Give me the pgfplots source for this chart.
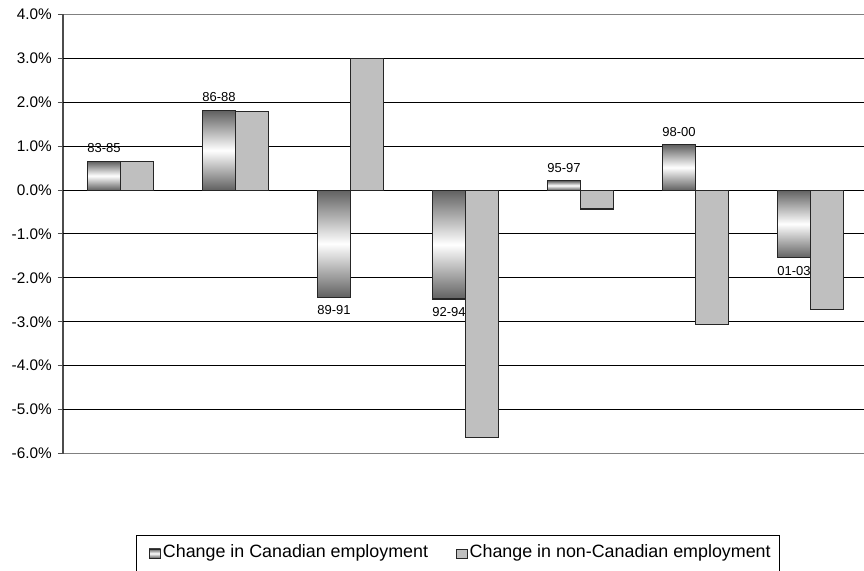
\documentclass[border=0pt]{standalone}
\usepackage{fontspec}
\setmainfont{Liberation Sans}
\usepackage{pgfplots}
\pgfplotsset{compat=1.18}

\pgfplotsset{
  canbar/.style={draw=black!85, line width=0.8pt, top color=black!62, bottom color=black!62, middle color=white,
    bar shift=-12.375pt, nodes near coords, point meta=explicit symbolic,
    every node near coord/.append style={font=\fontsize{9.75}{11}\selectfont, inner xsep=0pt, inner ysep=6pt, black}},
  up/.style={every node near coord/.append style={anchor=south}},
  down/.style={every node near coord/.append style={anchor=north}},
}

\begin{document}
\begin{tikzpicture}
\begin{axis}[
  name=ax,
  scale only axis,
  width=602.25pt, height=329.25pt,
  xmin=-0.5, xmax=6.483,
  ymin=-6, ymax=4,
  ybar=0pt, bar width=24.75pt,
  xtick=\empty,
  ytick={-6,-5,...,4},
  extra y ticks={-5,-4,...,3},
  extra y tick labels={},
  extra y tick style={ymajorgrids=true, major grid style={black, line width=0.75pt}},
  ytick pos=left,
  tick align=outside,
  major tick length=3.75pt,
  tick style={gray!60!black, line width=0.75pt},
  /pgf/number format/assume math mode=true,
  yticklabel={\pgfmathprintnumber[fixed,fixed zerofill,precision=1]{\tick}\%},
  yticklabel style={font=\fontsize{11.5}{13}\selectfont, inner xsep=0pt, xshift=-4.5pt},
  separate axis lines,
  x axis line style={gray, line width=0.75pt},
  y axis line style={gray!60!black, line width=1.3pt},
  legend style={at={(0.4919,0)}, anchor=north, yshift=-61pt, draw=black, line width=0.75pt,
    font=\fontsize{13.4}{15}\selectfont, legend columns=2, inner xsep=5pt, inner ysep=0pt,
    nodes={inner ysep=2pt, inner xsep=1.5pt, text height=14.8pt, text depth=12pt},
    /tikz/every even column/.append style={column sep=15pt}},
  legend image code/.code={\path (-4pt,0pt); \draw[#1, line width=0.6pt] (0pt,-1.6pt) rectangle (8.5pt,5.2pt);},
]
% Canadian employment (one bar per plot so that each bar carries its own shading)
\addplot[canbar, up] coordinates {(0,0.65) [83-85]};
\addlegendentry{Change in Canadian employment}
\addplot[canbar, up, forget plot] coordinates {(1,1.81) [86-88]};
\addplot[canbar, down, forget plot] coordinates {(2,-2.44) [89-91]};
\addplot[canbar, down, forget plot] coordinates {(3,-2.48) [92-94]};
\addplot[canbar, up, forget plot] coordinates {(4,0.21) [95-97]};
\addplot[canbar, up, forget plot] coordinates {(5,1.03) [98-00]};
\addplot[canbar, down, forget plot] coordinates {(6,-1.54) [01-03]};
% non-Canadian employment
\addplot[draw=black!85, line width=0.8pt, fill=black!25, bar shift=12.375pt]
  coordinates {(0,0.65) (1,1.78) (2,2.99) (3,-5.63) (4,-0.43) (5,-3.06) (6,-2.72)};
\addlegendentry{Change in non-Canadian employment}
\end{axis}
\pgfresetboundingbox
\useasboundingbox ([xshift=-47.25pt, yshift=-88.125pt]ax.south west) rectangle ++(648pt,428.25pt);
\end{tikzpicture}
\end{document}
